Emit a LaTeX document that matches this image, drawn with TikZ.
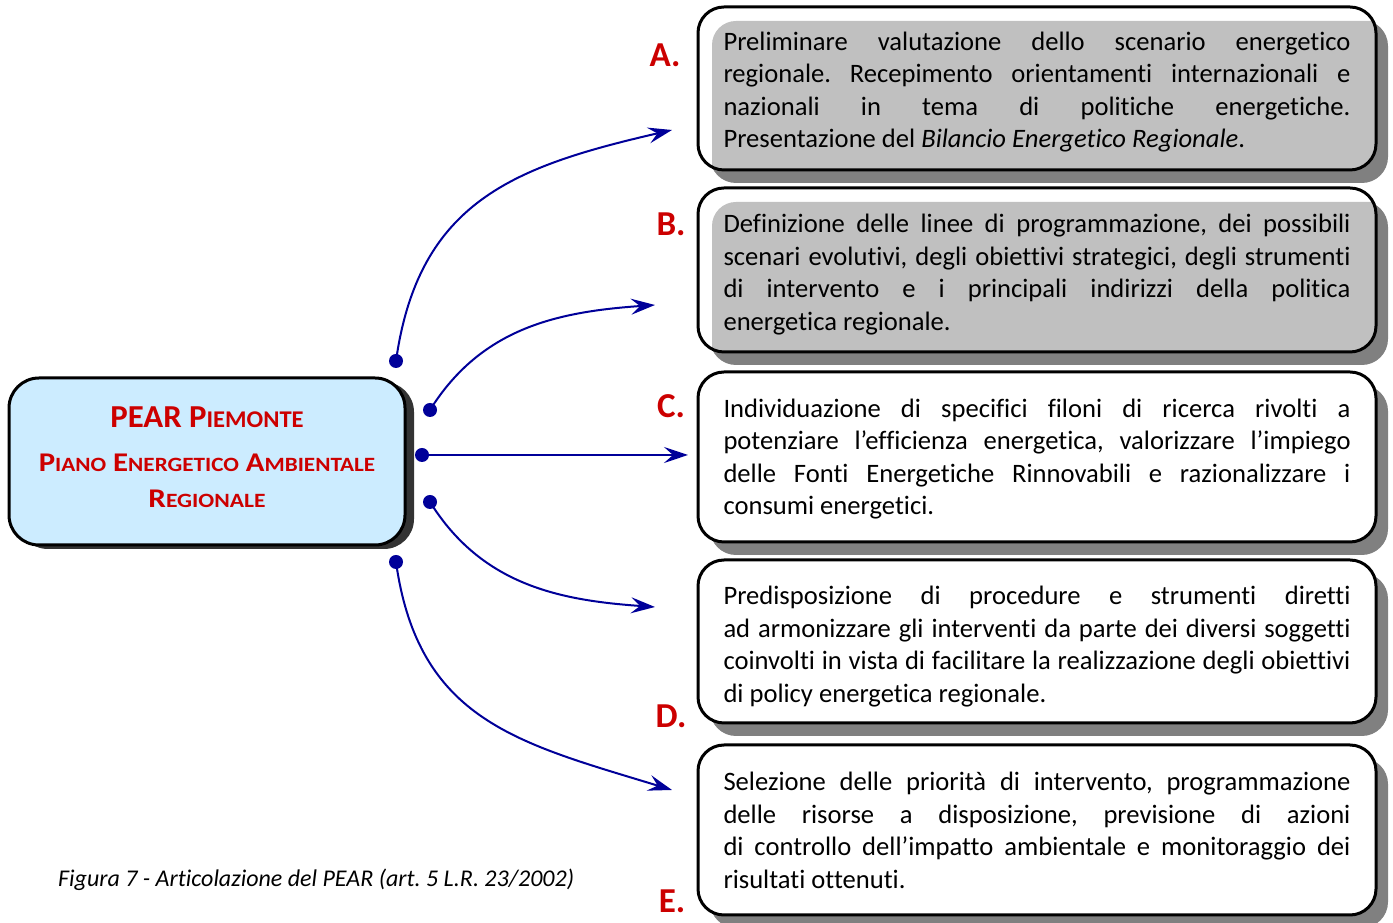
\documentclass[tikz,border=0pt]{standalone}
\usepackage{fontspec}
\setmainfont{Carlito}[Ligatures={NoCommon}]
\usetikzlibrary{arrows.meta,shadows}

\definecolor{pearred}{RGB}{204,0,0}
\definecolor{linkblue}{RGB}{0,0,153}
\definecolor{mainfill}{RGB}{204,236,255}
\definecolor{boxgray}{RGB}{192,192,192}
\definecolor{shadowgray}{RGB}{128,128,128}

\hyphenpenalty=10000
\exhyphenpenalty=10000
\frenchspacing

% faked small caps for the title box
\newcommand\capsBig[1]{{\fontsize{32}{36}\selectfont #1}}
\newcommand\capsSmall[1]{{\fontsize{24}{36}\selectfont #1}}
\newcommand\capsMid[1]{{\fontsize{27}{36}\selectfont #1}}
\newcommand\capsTiny[1]{{\fontsize{20.3}{36}\selectfont #1}}

\begin{document}
\begin{tikzpicture}[x=1pt,y=1pt,
  boxbase/.style={draw, line width=3pt, rounded corners=26pt, fill=white,
    minimum width=678pt, inner sep=0pt,
    drop shadow={shadow xshift=12pt, shadow yshift=-13pt, fill=shadowgray, opacity=1}},
  plainbox/.style={boxbase},
  graybox/.style={boxbase,
    path picture={\fill[boxgray, rounded corners=24pt]
      ([xshift=14pt,yshift=-14pt]path picture bounding box.north west) rectangle
      ([xshift=30pt,yshift=-30pt]path picture bounding box.south east);}},
  phasetext/.style={inner sep=0pt, text width=627pt, align=justify,
    font=\fontsize{26.6}{32.5}\selectfont},
  letter/.style={font=\fontsize{35}{40}\bfseries\selectfont, text=pearred, inner sep=0pt},
  link/.style={draw=linkblue, line width=2pt, -{Stealth[length=24pt,width=16pt,inset=9pt]}},
  dot/.style={circle, fill=linkblue, inner sep=0pt, minimum size=14pt}]

\useasboundingbox (0,0) rectangle (1393,923);

% central title box
\node[draw, line width=3pt, rounded corners=30pt, fill=mainfill,
      minimum width=396pt, minimum height=167pt, inner sep=0pt,
      drop shadow={shadow xshift=9pt, shadow yshift=-4pt, fill=black!80, opacity=1}]
  (pear) at (207,461.5) {};
\node[align=center, inner sep=0pt, text=pearred, font=\bfseries\fontsize{27}{36}\selectfont]
  (pearTitle) at ([yshift=4pt]pear.center)
  {\scalebox{1.025}[1]{\capsBig{PEAR P}\capsSmall{IEMONTE}}\\[8pt]
   \scalebox{1.14}[1]{\capsMid{P}\capsTiny{IANO} \capsMid{E}\capsTiny{NERGETICO} \capsMid{A}\capsTiny{MBIENTALE}}\\
   \scalebox{1.16}[1]{\capsMid{R}\capsTiny{EGIONALE}}};

% the five phase boxes
\node[graybox, minimum height=163pt] (boxA) at (1037,834.5) {};
\node[graybox, minimum height=164pt] (boxB) at (1037,653) {};
\node[plainbox, minimum height=170pt] (boxC) at (1037,466) {};
\node[plainbox, minimum height=163pt] (boxD) at (1037,281.5) {};
\node[plainbox, minimum height=170pt] (boxE) at (1037,93) {};

% their descriptions
\node[phasetext] (tA) at ([yshift=-3.5pt]boxA.center)
  {Preliminare valutazione dello scenario energetico\linebreak
   regionale. Recepimento orientamenti internazionali e\linebreak
   nazionali in tema di politiche energetiche.\linebreak
   Presentazione del \textit{Bilancio Energetico Regionale}.};

\node[phasetext] (tB) at ([yshift=-4.5pt]boxB.center)
  {Definizione delle linee di programmazione, dei possibili\linebreak
   scenari evolutivi, degli obiettivi strategici, degli strumenti\linebreak
   di intervento e i principali indirizzi della politica\linebreak
   energetica regionale.};

\node[phasetext] (tC) at ([yshift=-2pt]boxC.center)
  {Individuazione di specifici filoni di ricerca rivolti a\linebreak
   potenziare l’efficienza energetica, valorizzare l’impiego\linebreak
   delle Fonti Energetiche Rinnovabili e razionalizzare i\linebreak
   consumi energetici.};

\node[phasetext] (tD) at ([yshift=-5pt]boxD.center)
  {Predisposizione di procedure e strumenti diretti\linebreak
   ad armonizzare gli interventi da parte dei diversi soggetti\linebreak
   coinvolti in vista di facilitare la realizzazione degli obiettivi\linebreak
   di policy energetica regionale.};

\node[phasetext] (tE) at ([yshift=-0.5pt]boxE.center)
  {Selezione delle priorità di intervento, programmazione\linebreak
   delle risorse a disposizione, previsione di azioni\linebreak
   di controllo dell’impatto ambientale e monitoraggio dei\linebreak
   risultati ottenuti.};

% phase letters
\node[letter] (lA) at (665,868) {A.};
\node[letter] (lB) at (671,699) {B.};
\node[letter] (lC) at (671,517) {C.};
\node[letter] (lD) at (671,207) {D.};
\node[letter] (lE) at (672,22) {E.};

% connector ends
\coordinate (e1) at (672,793);
\coordinate (e2) at (655,618);
\coordinate (e3) at (688,468);
\coordinate (e4) at (655,316);
\coordinate (e5) at (672,133);

% connector starts
\coordinate (s1) at (396,562);
\coordinate (s2) at (430,513);
\coordinate (s3) at (422,468);
\coordinate (s4) at (430,421);
\coordinate (s5) at (396,361);

\draw[link] (s1) to[out=82, in=193, looseness=1.15] (e1);
\draw[link] (s2) to[out=58, in=184] (e2);
\draw[link] (s3) -- (e3);
\draw[link] (s4) to[out=-58, in=176] (e4);
\draw[link] (s5) to[out=-82, in=163, looseness=1.15] (e5);

\foreach \i in {1,...,5} \node[dot] (d\i) at (s\i) {};

% caption
\node[anchor=west, inner sep=0pt, font=\itshape\fontsize{24}{28}\selectfont] (caption)
  at (58,43) {Figura 7 - Articolazione del PEAR (art. 5 L.R. 23/2002)};

\end{tikzpicture}
\end{document}
